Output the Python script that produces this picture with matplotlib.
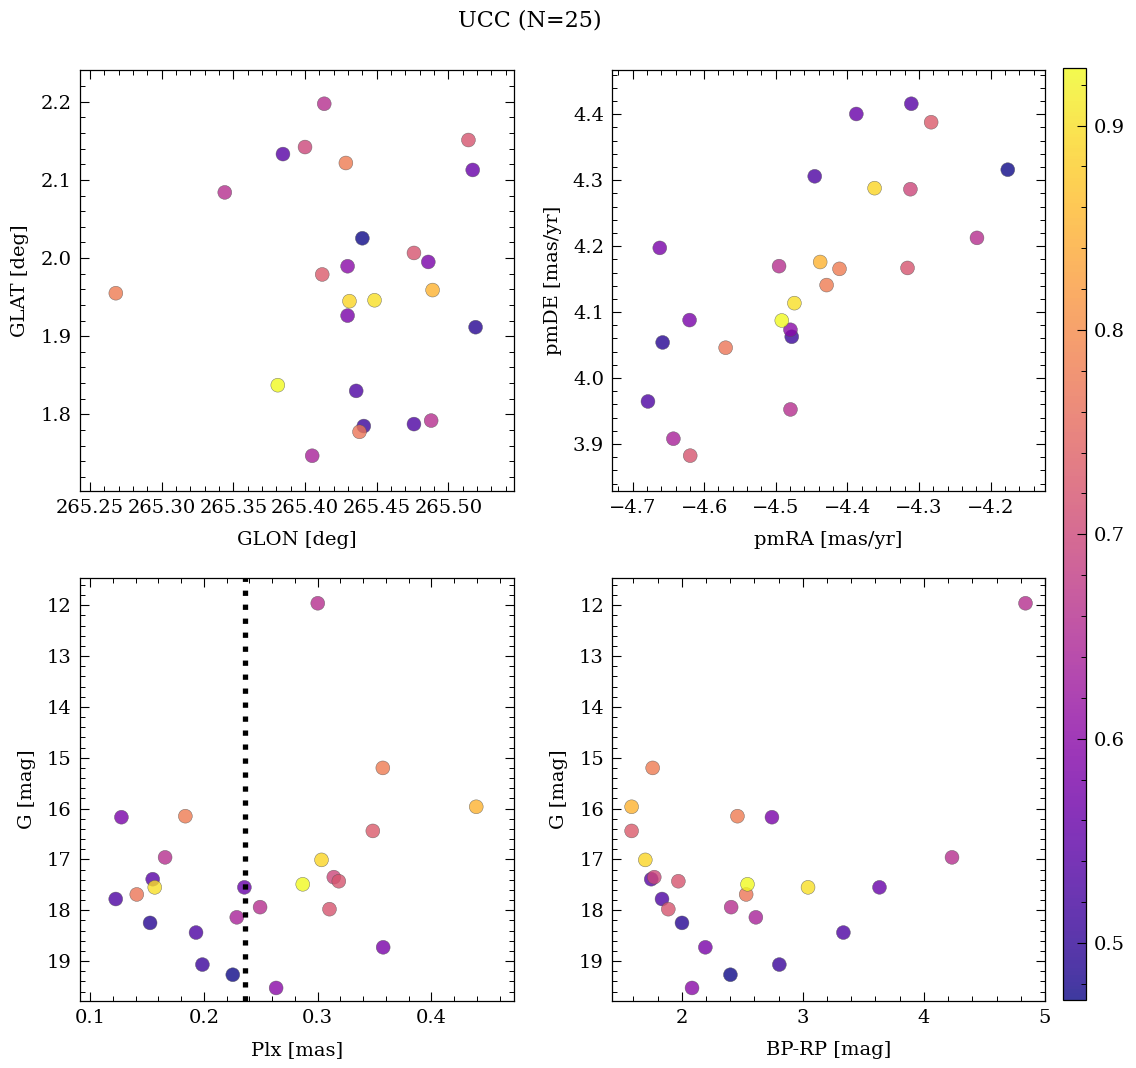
import numpy as np
import matplotlib
matplotlib.use("Agg")
import matplotlib.pyplot as plt
from matplotlib.ticker import AutoMinorLocator, MultipleLocator

# ---- data (25 stars) ----
glon = [265.4134, 265.4285, 265.489, 265.4297, 265.268, 265.412, 265.488, 265.431,
        265.3846, 265.4485, 265.400, 265.514, 265.381, 265.517, 265.476, 265.438,
        265.344, 265.476, 265.405, 265.519, 265.4357, 265.486, 265.441, 265.440, 265.4297]
glat = [2.1974, 2.1216, 1.959, 1.9263, 1.955, 1.979, 1.792, 1.9448,
        2.133, 1.946, 2.142, 2.151, 1.8373, 2.1127, 1.7875, 1.7776,
        2.084, 2.0065, 1.747, 1.9115, 1.830, 1.995, 1.785, 2.0253, 1.9895]
pmra = [-4.4954, -4.411, -4.438, -4.6204, -4.429, -4.283, -4.219, -4.362,
        -4.3107, -4.474, -4.312, -4.316, -4.4916, -4.3875, -4.4456, -4.570,
        -4.4795, -4.6195, -4.643, -4.658, -4.6785, -4.662, -4.4777, -4.176, -4.4795]
pmde = [4.1697, 4.1656, 4.176, 4.0879, 4.141, 4.388, 4.2126, 4.288,
        4.416, 4.1136, 4.2864, 4.167, 4.0873, 4.4005, 4.306, 4.046,
        3.9524, 3.8823, 3.908, 4.054, 3.9645, 4.1974, 4.0626, 4.316, 4.0732]
plx = [0.3002, 0.3574, 0.4395, 0.1276, 0.1838, 0.3486, 0.166, 0.3035,
       0.1551, 0.1569, 0.3143, 0.3187, 0.2870, 0.2357, 0.1226, 0.1411,
       0.2495, 0.3105, 0.2290, 0.1528, 0.1932, 0.3577, 0.1988, 0.2255, 0.2636]
gmag = [11.96, 15.20, 15.965, 16.17, 16.15, 16.44, 16.96, 17.01,
        17.39, 17.55, 17.35, 17.43, 17.49, 17.55, 17.78, 17.69,
        17.94, 17.98, 18.14, 18.25, 18.44, 18.73, 19.07, 19.27, 19.53]
bprp = [4.839, 1.760, 1.586, 2.745, 2.460, 1.586, 4.232, 1.699,
        1.748, 3.043, 1.773, 1.972, 2.543, 3.633, 1.837, 2.532,
        2.408, 1.889, 2.612, 2.002, 3.335, 2.195, 2.806, 2.402, 2.085]
prob = [0.66, 0.78, 0.85, 0.58, 0.78, 0.73, 0.66, 0.89,
        0.54, 0.90, 0.70, 0.72, 0.928, 0.56, 0.53, 0.77,
        0.66, 0.72, 0.64, 0.49, 0.53, 0.58, 0.51, 0.472, 0.60]
plx_median = 0.236
title = "UCC (N=25)"

# ---- style ----
plt.rcParams.update({
    "font.family": "serif",
    "font.serif": ["DejaVu Serif"],
    "font.size": 14,
    "axes.linewidth": 0.9,
    "xtick.direction": "in", "ytick.direction": "in",
    "xtick.top": True, "ytick.right": True,
    "xtick.minor.visible": True, "ytick.minor.visible": True,
    "xtick.major.size": 6.5, "ytick.major.size": 6.5,
    "xtick.minor.size": 3.5, "ytick.minor.size": 3.5,
    "xtick.major.width": 0.8, "ytick.major.width": 0.8,
    "xtick.minor.width": 0.7, "ytick.minor.width": 0.7,
    "axes.unicode_minus": True,
})

W, H = 1136, 1068
fig = plt.figure(figsize=(W / 100, H / 100), dpi=100)

def pos(x0, y0, x1, y1):
    return [x0 / W, 1 - y1 / H, (x1 - x0) / W, (y1 - y0) / H]

ax1 = fig.add_axes(pos(80, 70, 514, 491))
ax2 = fig.add_axes(pos(612.3, 70, 1045, 491))
ax3 = fig.add_axes(pos(80, 578, 514, 1000.5))
ax4 = fig.add_axes(pos(612.3, 578, 1045, 1000.5))
cax = fig.add_axes(pos(1063.3, 68.3, 1085.7, 1000.3))

order = np.argsort(prob, kind="stable")
def arr(v):
    return np.asarray(v)[order]

P = arr(prob)
kw = dict(c=P, cmap="plasma", s=100, alpha=0.8, edgecolors="#555555", linewidths=0.35,
          vmin=min(prob), vmax=max(prob))

sc = ax1.scatter(arr(glon), arr(glat), **kw)
ax2.scatter(arr(pmra), arr(pmde), **kw)
ax3.scatter(arr(plx), arr(gmag), **kw)
ax4.scatter(arr(bprp), arr(gmag), **kw)
ax3.axvline(plx_median, color="black", linestyle=":", linewidth=3.8)

XLP, YLP = 10, 8
ax1.set_xlim(265.243, 265.5458); ax1.set_ylim(1.7019, 2.2406)
ax1.xaxis.set_major_locator(MultipleLocator(0.05))
ax1.yaxis.set_major_locator(MultipleLocator(0.1))
ax1.set_xlabel("GLON [deg]", labelpad=XLP); ax1.set_ylabel("GLAT [deg]", labelpad=YLP)

ax2.set_xlim(-4.7283, -4.124); ax2.set_ylim(3.8287, 4.4672)
ax2.xaxis.set_major_locator(MultipleLocator(0.1))
ax2.yaxis.set_major_locator(MultipleLocator(0.1))
ax2.set_xlabel("pmRA [mas/yr]", labelpad=XLP); ax2.set_ylabel("pmDE [mas/yr]", labelpad=YLP)

ax3.set_xlim(0.0912, 0.4727); ax3.set_ylim(19.777, 11.463)
ax3.xaxis.set_major_locator(MultipleLocator(0.1))
ax3.yaxis.set_major_locator(MultipleLocator(1))
ax3.set_xlabel("Plx [mas]", labelpad=XLP); ax3.set_ylabel("G [mag]", labelpad=YLP)

ax4.set_xlim(1.4265, 5.0); ax4.set_ylim(19.777, 11.463)
ax4.xaxis.set_major_locator(MultipleLocator(1))
ax4.yaxis.set_major_locator(MultipleLocator(1))
ax4.set_xlabel("BP-RP [mag]", labelpad=XLP); ax4.set_ylabel("G [mag]", labelpad=YLP)

for ax in (ax1, ax2, ax3, ax4):
    ax.xaxis.set_minor_locator(AutoMinorLocator(5))
    ax.yaxis.set_minor_locator(AutoMinorLocator(5))
    ax.tick_params(which="both", top=True, right=True, direction="in")
    ax.tick_params(axis="x", which="major", pad=6)
    ax.tick_params(axis="y", which="major", pad=6)

cb = fig.colorbar(sc, cax=cax)
cb.ax.yaxis.set_major_locator(MultipleLocator(0.1))
cb.ax.yaxis.set_minor_locator(MultipleLocator(0.02))
cb.ax.tick_params(which="both", direction="in", right=True, left=False)
cb.ax.tick_params(which="major", pad=6)
cb.outline.set_linewidth(0.9)

fig.text(530 / W, 1 - 20 / H, title, ha="center", va="center", fontsize=16)

fig.savefig("out.png", dpi=100)
